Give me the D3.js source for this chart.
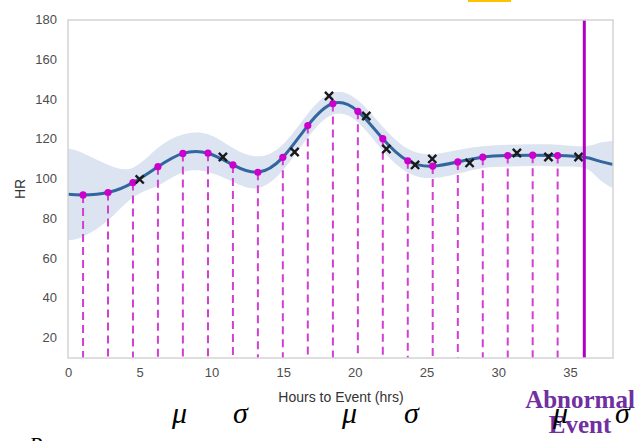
<!DOCTYPE html>
<html>
<head>
<meta charset="utf-8">
<script src="https://cdn.jsdelivr.net/npm/d3@7"></script>
<style>
  body { margin: 0; background: #fff; }
  svg { display: block; }
</style>
</head>
<body>
<div id="chart"></div>
<script>
// sampled points of the GP mean (dots + dashed lines)
const sampleHours = [1.05, 2.79, 4.53, 6.27, 8.01, 9.76, 11.50, 13.24, 14.98, 16.72,
                     18.47, 20.21, 21.95, 23.69, 25.43, 27.18, 28.92, 30.66, 32.40, 34.14];
const sampleHR = [91.7, 92.9, 97.9, 105.9, 112.6, 112.7, 106.8, 103.1, 110.6, 126.6,
                  137.7, 133.8, 120.0, 108.9, 106.2, 108.3, 110.7, 111.5, 111.7, 111.5];

// mean curve + std band
const curveHours = [0, ...sampleHours, 36, 37, 38];
const curveHR = [92, ...sampleHR, 110.7, 108.8, 107];
const curveSD = [23, 21, 14, 7.5, 9.5, 9.5, 9.5, 8.5, 8, 6.5, 6,
                 5.5, 5.5, 6, 6, 6, 6, 5.5, 5.5, 5.5, 5.5, 5.5, 9, 12];

// observations (black x)
const obsHours = [5.0, 10.8, 15.8, 18.2, 20.8, 22.2, 24.2, 25.4, 28.0, 31.3, 33.5, 35.6];
const obsHR = [99.5, 110.8, 113.3, 141.5, 131.4, 114.8, 106.8, 109.8, 107.8, 112.8, 110.8, 110.8];

const eventHour = 36;
const xTicks = [0, 5, 10, 15, 20, 25, 30, 35];
const yTicks = [20, 40, 60, 80, 100, 120, 140, 160, 180];

const width = 641, height = 441;
const margin = {top: 20, right: 28, bottom: 83, left: 68};

const svg = d3.select("#chart")
    .append("svg")
    .attr("width", width)
    .attr("height", height);

const x = d3.scaleLinear().domain([0, 38]).range([margin.left, width - margin.right]);
const y = d3.scaleLinear().domain([9.6, 180]).range([height - margin.bottom, 19.5]);

const curve = curveHours.map((h, i) => ({h: h, m: curveHR[i], s: curveSD[i]}));

// yellow mark at top
svg.append("rect")
    .attr("x", 468).attr("y", 0)
    .attr("width", 43).attr("height", 2)
    .attr("fill", "#ffc000");

// confidence band
svg.append("path")
    .datum(curve)
    .attr("d", d3.area()
        .x(d => x(d.h))
        .y0(d => y(d.m - d.s))
        .y1(d => y(d.m + d.s))
        .curve(d3.curveNatural))
    .attr("fill", "#dbe4f0");

// dashed drops
svg.selectAll(".drop")
    .data(sampleHours)
    .enter()
    .append("line")
    .attr("class", "drop")
    .attr("x1", d => x(d))
    .attr("x2", d => x(d))
    .attr("y1", (d, i) => y(sampleHR[i]))
    .attr("y2", y.range()[0])
    .attr("stroke", "#d23fd2")
    .attr("stroke-width", 2)
    .attr("stroke-dasharray", "8,5");

// mean line
svg.append("path")
    .datum(curve)
    .attr("d", d3.line()
        .x(d => x(d.h))
        .y(d => y(d.m))
        .curve(d3.curveNatural))
    .attr("fill", "none")
    .attr("stroke", "#33659f")
    .attr("stroke-width", 3);

// sample dots
svg.selectAll(".dot")
    .data(sampleHours)
    .enter()
    .append("circle")
    .attr("cx", d => x(d))
    .attr("cy", (d, i) => y(sampleHR[i]))
    .attr("r", 3.6)
    .attr("fill", "#cc00cc");

// observations
svg.selectAll(".obs")
    .data(obsHours)
    .enter()
    .append("path")
    .attr("transform", (d, i) => `translate(${x(d)},${y(obsHR[i])})`)
    .attr("d", d3.symbol().type(d3.symbolX).size(45))
    .attr("fill", "none")
    .attr("stroke", "#1a1a1a")
    .attr("stroke-width", 2.4);

// event line
svg.append("line")
    .attr("x1", x(eventHour)).attr("x2", x(eventHour))
    .attr("y1", 20).attr("y2", y.range()[0])
    .attr("stroke", "#b000c4")
    .attr("stroke-width", 3);

// frame
svg.append("rect")
    .attr("x", margin.left).attr("y", 20)
    .attr("width", width - margin.right - margin.left)
    .attr("height", y.range()[0] - 20)
    .attr("fill", "none")
    .attr("stroke", "#d4d4d4")
    .attr("stroke-width", 1.5);

// axes
const xAxis = svg.append("g")
    .attr("transform", `translate(0,${y.range()[0]})`)
    .call(d3.axisBottom(x).tickValues(xTicks).tickSize(0).tickPadding(10));
const yAxis = svg.append("g")
    .attr("transform", `translate(${margin.left},0)`)
    .call(d3.axisLeft(y).tickValues(yTicks).tickSize(0).tickPadding(11));

[xAxis, yAxis].forEach(g => {
    g.select(".domain").remove();
    g.selectAll("text")
        .attr("fill", "#4d4d4d")
        .style("font-family", "'Liberation Sans', Arial, sans-serif")
        .style("font-size", "13px");
});

svg.append("text")
    .attr("x", 341).attr("y", 402)
    .attr("text-anchor", "middle")
    .attr("fill", "#333")
    .style("font-family", "'Liberation Sans', Arial, sans-serif")
    .style("font-size", "14px")
    .text("Hours to Event (hrs)");

svg.append("text")
    .attr("transform", "translate(25,189) rotate(-90)")
    .attr("text-anchor", "middle")
    .attr("fill", "#333")
    .style("font-family", "'Liberation Sans', Arial, sans-serif")
    .style("font-size", "14px")
    .text("HR");

// annotation text
const serif = "'Liberation Serif', 'DejaVu Serif', serif";
svg.append("text")
    .attr("x", 580).attr("y", 408)
    .attr("text-anchor", "middle")
    .attr("fill", "#7030a0")
    .style("font-family", serif)
    .style("font-weight", "bold")
    .style("font-size", "25px")
    .text("Abnormal");
svg.append("text")
    .attr("x", 580).attr("y", 433)
    .attr("text-anchor", "middle")
    .attr("fill", "#7030a0")
    .style("font-family", serif)
    .style("font-weight", "bold")
    .style("font-size", "25px")
    .text("Event");

const greek = [
    {t: "\u03bc", x: 172}, {t: "\u03c3", x: 233},
    {t: "\u03bc", x: 342}, {t: "\u03c3", x: 404},
    {t: "\u03bc", x: 553}, {t: "\u03c3", x: 615}
];
svg.selectAll(".greek")
    .data(greek)
    .enter()
    .append("text")
    .attr("x", d => d.x).attr("y", 423)
    .attr("fill", "#000")
    .style("font-family", serif)
    .style("font-style", "italic")
    .style("font-size", "30px")
    .text(d => d.t);

svg.append("text")
    .attr("x", 7).attr("y", 452)
    .attr("fill", "#000")
    .style("font-family", serif)
    .style("font-style", "italic")
    .style("font-size", "22px")
    .text("\u03bc, P");
</script>
</body>
</html>
